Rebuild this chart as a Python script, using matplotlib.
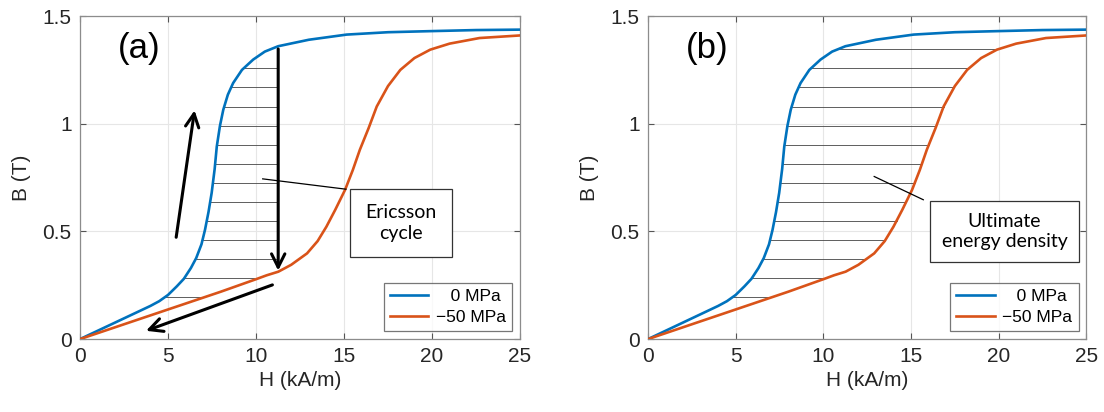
import numpy as np
import matplotlib.pyplot as plt

plt.rcParams['font.family'] = ['Liberation Sans', 'DejaVu Sans']

# B-H curves
h_0mpa = [0, 2, 4, 4.5, 5.0, 5.5, 5.9, 6.3, 6.6, 6.9, 7.1, 7.3, 7.48, 7.65, 7.77,
          7.95, 8.14, 8.4, 8.7, 9.2, 9.84, 10.5, 11.26, 13, 15.15, 17.5, 19.9, 22.5, 25]
b_0mpa = [0, 0.077, 0.154, 0.176, 0.205, 0.245, 0.28, 0.33, 0.376, 0.44, 0.507, 0.59,
          0.679, 0.79, 0.894, 0.99, 1.065, 1.135, 1.189, 1.25, 1.298, 1.335, 1.36,
          1.39, 1.414, 1.425, 1.43, 1.435, 1.437]
h_50mpa = [0, 2, 4, 6, 8, 10, 10.6, 11.27, 12, 12.9, 13.5, 14.0, 14.5, 15.06, 15.5,
           15.9, 16.4, 16.86, 17.5, 18.2, 19, 19.9, 21, 22.7, 25]
b_50mpa = [0, 0.055, 0.11, 0.165, 0.22, 0.278, 0.296, 0.313, 0.345, 0.398, 0.455,
           0.522, 0.6, 0.693, 0.785, 0.879, 0.98, 1.08, 1.175, 1.25, 1.305, 1.344,
           1.372, 1.398, 1.41]

hatch_a = [0.195 + 0.0885 * k for k in range(13)]
hatch_b = [0.195 + 0.0885 * k for k in range(14)]
h_cycle = 11.26  # vertical step of the Ericsson cycle

blue = '#0072BD'
orange = '#D95319'
box_font = ['Lato', 'DejaVu Sans']

fig = plt.figure(figsize=(11.04, 4.12), dpi=100)
ax1 = fig.add_axes([0.0725, 0.177, 0.3985, 0.784])
ax2 = fig.add_axes([0.587, 0.177, 0.397, 0.784])


def base(ax, tag):
    ax.plot(h_0mpa, b_0mpa, color=blue, lw=1.9, label='   0 MPa', zorder=4)
    ax.plot(h_50mpa, b_50mpa, color=orange, lw=1.9, label='\u221250 MPa', zorder=4)
    ax.set_xlim(0, 25)
    ax.set_ylim(0, 1.5)
    ax.set_xticks([0, 5, 10, 15, 20, 25])
    ax.set_yticks([0, 0.5, 1, 1.5])
    ax.set_yticklabels(['0', '0.5', '1', '1.5'])
    ax.grid(True, color='#e6e6e6', lw=0.8)
    ax.set_axisbelow(True)
    ax.tick_params(direction='in', top=True, right=True, labelsize=15,
                   color='#555555', labelcolor='#262626', length=4, pad=6)
    for s in ax.spines.values():
        s.set_color('#8c8c8c')
        s.set_linewidth(0.9)
    ax.set_xlabel('H (kA/m)', fontsize=15, labelpad=3, color='#262626')
    ax.set_ylabel('B (T)', fontsize=15, labelpad=8, color='#262626')
    ax.text(3.35, 1.35, tag, fontsize=25, ha='center', va='center')
    leg = ax.legend(loc='lower right', fontsize=12.5, fancybox=False,
                    edgecolor='#555555', borderaxespad=0.45, handlelength=2.2,
                    handletextpad=0.45, borderpad=0.35, labelspacing=0.35)
    leg.get_frame().set_linewidth(0.9)


base(ax1, '(a)')
base(ax2, '(b)')

# (a) hatching between 0 MPa curve and the vertical step
for b in hatch_a:
    h1 = np.interp(b, b_0mpa, h_0mpa)
    h2 = min(np.interp(b, b_50mpa, h_50mpa) - 0.3, h_cycle)
    ax1.plot([h1, h2], [b, b], color='#444444', lw=0.6, zorder=2)

arw = dict(arrowstyle='->', lw=2.2, color='black', mutation_scale=24)
ax1.annotate('', xy=(6.53, 1.075), xytext=(5.44, 0.46), arrowprops=arw, zorder=5)
ax1.annotate('', xy=(h_cycle, 0.305), xytext=(h_cycle, 1.36), arrowprops=arw, zorder=5)
ax1.annotate('', xy=(3.6, 0.034), xytext=(11.08, 0.256), arrowprops=arw, zorder=5)

ax1.plot([10.38, 15.11], [0.744, 0.696], color='black', lw=0.9, zorder=5)
ax1.text(18.23, 0.54, 'Ericsson\ncycle', fontsize=14, ha='center', va='center',
         family=box_font, linespacing=1.25, zorder=6,
         bbox=dict(boxstyle='square,pad=0.78', fc='white', ec='#333333', lw=0.9))

# (b) hatching between the two curves
for b in hatch_b:
    h1 = np.interp(b, b_0mpa, h_0mpa)
    h2 = np.interp(b, b_50mpa, h_50mpa)
    ax2.plot([h1, h2], [b, b], color='#444444', lw=0.6, zorder=2)

ax2.plot([12.9, 15.7], [0.755, 0.647], color='black', lw=0.9, zorder=5)
ax2.text(20.33, 0.5, 'Ultimate\nenergy density', fontsize=14, ha='center', va='center',
         family=box_font, linespacing=1.2, zorder=6,
         bbox=dict(boxstyle='square,pad=0.62', fc='white', ec='#333333', lw=0.9))

fig.savefig('out.png', dpi=100)
